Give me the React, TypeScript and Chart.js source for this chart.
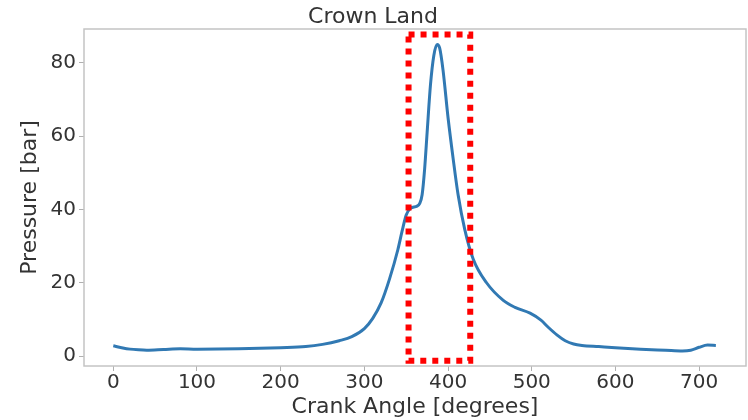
import React, { useEffect, useRef } from "react";
import { Chart, registerables } from "chart.js";

Chart.register(...registerables);

const TITLE = "Crown Land";
const X_LABEL = "Crank Angle [degrees]";
const Y_LABEL = "Pressure [bar]";

const crankAngle = [
  0, 10, 20, 30, 40, 60, 80, 100, 150, 200, 230, 250, 270, 285, 300, 310, 320,
  330, 340, 345, 350, 355, 363, 366, 369, 372, 375, 379, 383, 387, 390, 394,
  400, 406, 412, 420, 430, 446, 466, 480, 498, 511, 520, 530, 540, 550, 560,
  580, 600, 630, 660, 680, 690, 700, 710, 720,
];
const pressure = [
  2.8, 2.3, 1.9, 1.7, 1.6, 1.8, 2.0, 1.9, 2.0, 2.3, 2.6, 3.2, 4.2, 5.3, 7.5,
  10.3, 14.5, 21, 29, 34, 38.5, 40.3, 40.9, 41.6, 44, 51, 61, 74, 82, 85, 84,
  78, 65, 54, 44, 34.5, 26.5, 20, 15.2, 13.3, 11.7, 9.8, 7.8, 5.8, 4.2, 3.3,
  2.9, 2.6, 2.3, 1.9, 1.6, 1.4, 1.6, 2.4, 3.0, 2.9,
];

const xTicks = [0, 100, 200, 300, 400, 500, 600, 700];
const yTicks = [0, 20, 40, 60, 80];

const X_RANGE = [-35, 756];
const Y_RANGE = [-2.7, 89.2];

// highlight box, in data units
const boxX = [352.8, 426.5];
const boxY = [-1.3, 87.7];

const TEXT = "#333333";
const FONT = "'DejaVu Sans', sans-serif";

export default function App() {
  const ref = useRef<HTMLCanvasElement>(null);

  useEffect(() => {
    document.body.style.margin = "0";
    const canvas = ref.current;
    if (!canvas) return;

    const framePlugin = {
      id: "frame",
      beforeDatasetsDraw(chart: any) {
        const { ctx, chartArea } = chart;
        ctx.save();
        ctx.strokeStyle = "#c4c4c4";
        ctx.lineWidth = 1.5;
        ctx.strokeRect(
          chartArea.left,
          chartArea.top,
          chartArea.right - chartArea.left,
          chartArea.bottom - chartArea.top
        );
        ctx.restore();
      },
    };

    const boxPoints = [
      { x: boxX[0], y: boxY[1] },
      { x: boxX[1], y: boxY[1] },
      { x: boxX[1], y: boxY[0] },
      { x: boxX[0], y: boxY[0] },
      { x: boxX[0], y: boxY[1] },
    ];

    const chart = new Chart(canvas, {
      type: "line",
      data: {
        datasets: [
          {
            data: boxPoints,
            borderColor: "#ff0000",
            borderWidth: 6,
            borderDash: [6, 6],
            borderCapStyle: "butt",
            pointRadius: 0,
            tension: 0,
            fill: false,
          },
          {
            data: crankAngle.map((x, i) => ({ x, y: pressure[i] })),
            borderColor: "#3179b3",
            borderWidth: 3,
            pointRadius: 0,
            cubicInterpolationMode: "monotone",
            fill: false,
          },
        ],
      },
      options: {
        animation: false,
        responsive: false,
        maintainAspectRatio: false,
        layout: { padding: { left: 0, right: 2, top: 0, bottom: 0 } },
        plugins: {
          legend: { display: false },
          tooltip: { enabled: false },
          title: {
            display: true,
            text: TITLE,
            color: TEXT,
            font: { family: FONT, size: 22, weight: "normal", lineHeight: 1.0 },
            padding: { top: 6, bottom: 1 },
          },
        },
        scales: {
          x: {
            type: "linear",
            min: X_RANGE[0],
            max: X_RANGE[1],
            afterBuildTicks: (s: any) => {
              s.ticks = xTicks.map((v) => ({ value: v }));
            },
            afterFit: (s: any) => {
              s.height = 54;
            },
            grid: {
              drawOnChartArea: false,
              drawTicks: true,
              tickLength: 5,
              color: "#b0b0b0",
              lineWidth: 1,
            },
            border: { display: false },
            ticks: {
              color: TEXT,
              padding: 0,
              maxRotation: 0,
              font: { family: FONT, size: 20 },
            },
            title: {
              display: true,
              text: X_LABEL,
              color: TEXT,
              font: { family: FONT, size: 22 },
              padding: { top: 0, bottom: 0 },
            },
          },
          y: {
            type: "linear",
            min: Y_RANGE[0],
            max: Y_RANGE[1],
            afterBuildTicks: (s: any) => {
              s.ticks = yTicks.map((v) => ({ value: v }));
            },
            afterFit: (s: any) => {
              s.width = 84;
            },
            grid: {
              drawOnChartArea: false,
              drawTicks: true,
              tickLength: 5,
              color: "#b0b0b0",
              lineWidth: 1,
            },
            border: { display: false },
            ticks: {
              color: TEXT,
              padding: 3,
              font: { family: FONT, size: 20 },
            },
            title: {
              display: true,
              text: Y_LABEL,
              color: TEXT,
              font: { family: FONT, size: 22 },
              padding: { top: 17, bottom: 0 },
            },
          },
        },
      },
      plugins: [framePlugin],
    } as any);

    return () => chart.destroy();
  }, []);

  return (
    <div style={{ width: 748, height: 420 }}>
      <canvas ref={ref} width={748} height={420} style={{ display: "block" }} />
    </div>
  );
}
